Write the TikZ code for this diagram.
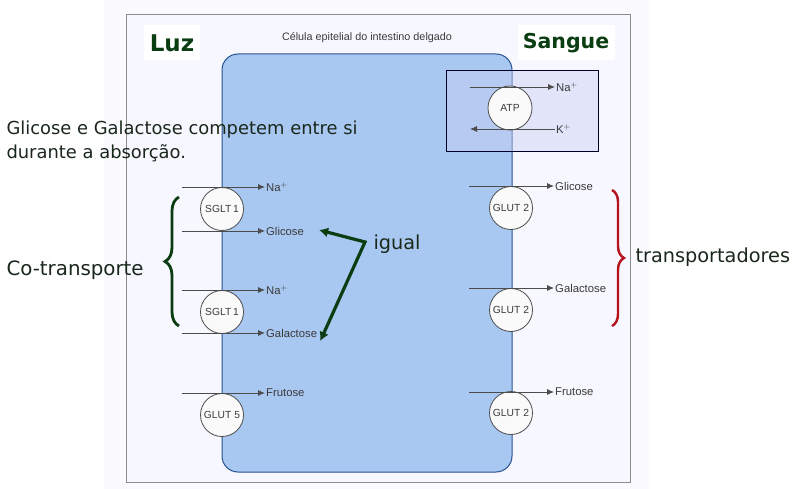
\documentclass[tikz,border=0pt]{standalone}
\usepackage{fontspec}
\setmainfont{Liberation Sans}
\newfontfamily\dv{DejaVu Sans}
\usetikzlibrary{decorations.pathreplacing,arrows.meta}
\definecolor{cellfill}{HTML}{A9C8F1}
\definecolor{cellline}{HTML}{24528F}
\definecolor{dgreen}{HTML}{0B3D12}
\definecolor{txtdark}{HTML}{1A281C}
\definecolor{lblgray}{HTML}{3A3A3A}
\definecolor{bred}{HTML}{B5121B}
\definecolor{lav}{HTML}{C9CDF2}
\tikzset{
  lbl/.style={anchor=west,inner sep=1pt,font=\fontsize{11.3}{13}\selectfont,text=lblgray},
  transp/.style={circle,draw=black!70,fill=white!96!gray,line width=0.8pt,minimum size=43pt,inner sep=0pt,font=\fontsize{10.3}{12}\selectfont,text=lblgray},
  arr/.style={draw=black!70,line width=0.8pt,-{Latex[length=7pt,width=6pt]}},
  garr/.style={draw=dgreen,line width=3.2pt,line join=miter,{Latex[length=9pt,width=10pt]}-{Latex[length=9pt,width=10pt]}},
  big/.style={font=\dv\fontsize{19.3}{23}\selectfont,text=txtdark},
  titlebox/.style={fill=white,inner sep=0pt,font=\dv\bfseries\fontsize{20.5}{24}\selectfont,text=dgreen},
}
\begin{document}
\begin{tikzpicture}[x=1pt,y=-1pt]
\useasboundingbox (0,0) rectangle (797,489);
% scanned page background
\fill[white] (0,0) rectangle (797,489);
\fill[black!3!blue!2] (104,0) rectangle (650,489);
\draw[black!45,fill=white!97!blue,line width=0.7pt] (126,14) rectangle (630,482);
% titles
\node[titlebox,minimum width=56pt,minimum height=35pt,font=\dv\bfseries\fontsize{23}{26}\selectfont] (luz) at (172,43) {Luz};
\node[titlebox,minimum width=97pt,minimum height=35pt] (sangue) at (566,43) {Sangue};
\node[font=\fontsize{10.8}{12}\selectfont,text=lblgray] (title) at (367,38) {Célula epitelial do intestino delgado};
% cell
\draw[cellline,fill=cellfill,line width=1pt,rounded corners=16pt] (222,54) rectangle (512,472);
% ATP box
\draw[fill=lav,fill opacity=0.45,draw=black!85!blue,line width=1pt] (446,71) rectangle (598,152);
\node[transp,minimum size=44pt] (atp) at (510,108) {ATP};
\coordinate (nas) at (470,87);
\node[lbl] (naout) at (555,87) {Na$^{+}$};
\draw[arr] (nas) -- (naout.west);
\coordinate (kin) at (470,129);
\node[lbl] (kout) at (555,129) {K$^{+}$};
\draw[arr] (kout.west) -- (kin);
% left transporters
\node[transp] (sg1) at (222,209) {SGLT\,1};
\node[transp] (sg2) at (222,312) {SGLT\,1};
\node[transp] (gl5) at (222,415) {GLUT 5};
\coordinate (l1) at (182,187);
\coordinate (l2) at (182,231);
\coordinate (l3) at (182,290);
\coordinate (l4) at (182,333);
\coordinate (l5) at (182,393);
\node[lbl] (na1) at (265,187) {Na$^{+}$};
\node[lbl] (glic) at (265,231) {Glicose};
\node[lbl] (na2) at (265,290) {Na$^{+}$};
\node[lbl] (galac) at (265,333) {Galactose};
\node[lbl] (frut) at (265,393) {Frutose};
\draw[arr] (l1) -- (na1.west);
\draw[arr] (l2) -- (glic.west);
\draw[arr] (l3) -- (na2.west);
\draw[arr] (l4) -- (galac.west);
\draw[arr] (l5) -- (frut.west);
% right transporters
\node[transp] (g21) at (511,208) {GLUT 2};
\node[transp] (g22) at (511,310) {GLUT 2};
\node[transp] (g23) at (511,413) {GLUT 2};
\coordinate (r1) at (469,186);
\coordinate (r2) at (469,288);
\coordinate (r3) at (469,392);
\node[lbl] (rglic) at (554,186) {Glicose};
\node[lbl] (rgalac) at (554,288) {Galactose};
\node[lbl] (rfrut) at (554,392) {Frutose};
\draw[arr] (r1) -- (rglic.west);
\draw[arr] (r2) -- (rgalac.west);
\draw[arr] (r3) -- (rfrut.west);
% annotations
\node[big,anchor=west,align=left,font=\dv\fontsize{17.9}{24}\selectfont] (comp) at (3,141) {Glicose e Galactose competem entre si\\durante a absorção.};
\node[big,anchor=west,font=\dv\fontsize{19.8}{23}\selectfont] (cot) at (3,270) {Co-transporte};
\node[big,anchor=west] (transp) at (632,257) {transportadores};
\node[big,anchor=west] (igual) at (370,244) {igual};
\coordinate (gv) at (365,242);
\draw[garr] ([xshift=14pt,yshift=1pt]glic.east) -- (gv) -- ([xshift=2pt,yshift=-8pt]galac.east);
% braces
\draw[dgreen,line width=2.8pt,decorate,decoration={brace,amplitude=14pt}] (179,326) -- (179,197);
\draw[bred,line width=2.4pt,decorate,decoration={brace,amplitude=12pt}] (612,190) -- (612,326);
\end{tikzpicture}
\end{document}
